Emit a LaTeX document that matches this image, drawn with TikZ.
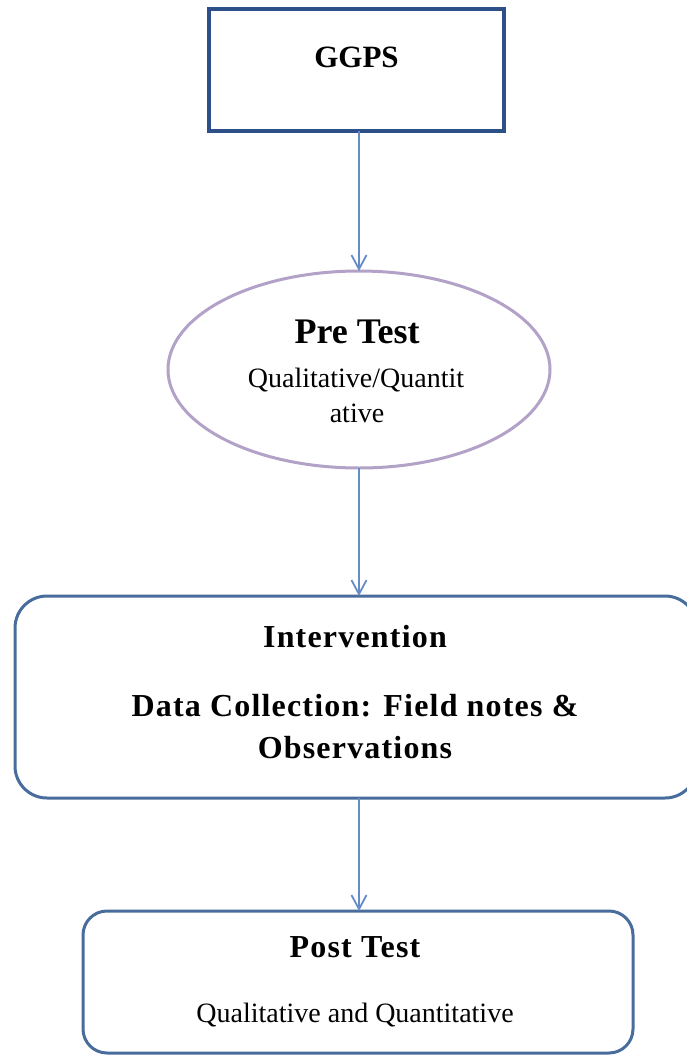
\documentclass[tikz,border=0pt]{standalone}
\usepackage{fontspec}
\setmainfont{Liberation Serif}
\newfontfamily\spacedfont[LetterSpace=3.7]{Liberation Serif}
\usetikzlibrary{arrows.meta,shapes.geometric}
\definecolor{navyline}{RGB}{44,80,135}
\definecolor{boxline}{RGB}{72,108,156}
\definecolor{arrowblue}{RGB}{100,140,200}
\definecolor{lavender}{RGB}{178,162,199}
\begin{document}
\begin{tikzpicture}[x=1pt,y=-1pt,
  shapebox/.style={inner sep=0pt, outer sep=0pt},
  flow/.style={draw=arrowblue, line width=1.8pt, -{Straight Barb[length=14pt,width=15pt,line width=1.8pt]}},
  headtxt/.style={anchor=base, inner sep=0pt, font=\spacedfont\bfseries\fontsize{32}{38}\selectfont},
  bigtxt/.style={anchor=base, inner sep=0pt, font=\bfseries\fontsize{36}{42}\selectfont},
  titletxt/.style={anchor=base, inner sep=0pt, font=\bfseries\fontsize{31}{37}\selectfont},
  subtxt/.style={anchor=base, inner sep=0pt, font=\fontsize{28}{34}\selectfont}
]
\useasboundingbox (0,0) rectangle (686,1055);

% shapes
\node[shapebox, draw=navyline, line width=4pt, minimum width=295pt, minimum height=122pt] (ggps) at (356.5,70) {};
\node[shapebox, ellipse, draw=lavender, line width=3pt, minimum width=382pt, minimum height=197pt] (pre) at (359,369.5) {};
\node[shapebox, rounded corners=32pt, draw=boxline, line width=3pt, minimum width=682pt, minimum height=202pt] (interv) at (356,697) {};
\node[shapebox, rounded corners=24pt, draw=boxline, line width=3pt, minimum width=550pt, minimum height=142pt] (post) at (358,982) {};

% texts
\node[titletxt] (ggpstext) at (356.5,67) {GGPS};
\node[bigtxt] (pretitle) at (357,343) {Pre Test};
\node[subtxt] (preline1) at (356,387) {Qualitative/Quantit};
\node[subtxt] (preline2) at (357,422) {ative};
\node[headtxt] (intervtitle) at (355,647) {Intervention};
\node[headtxt] (intervline1) at (355,716) {Data Collection: Field notes \&};
\node[headtxt] (intervline2) at (355,758) {Observations};
\node[headtxt] (posttitle) at (355,957) {Post Test};
\node[subtxt] (postline) at (355,1022) {Qualitative and Quantitative};

% connectors
\draw[flow] (ggps.south -| pre.north) -- (pre.north);
\draw[flow] (pre.south) -- (pre.south |- interv.north);
\draw[flow] (pre.south |- interv.south) -- (pre.south |- post.north);
\end{tikzpicture}
\end{document}
